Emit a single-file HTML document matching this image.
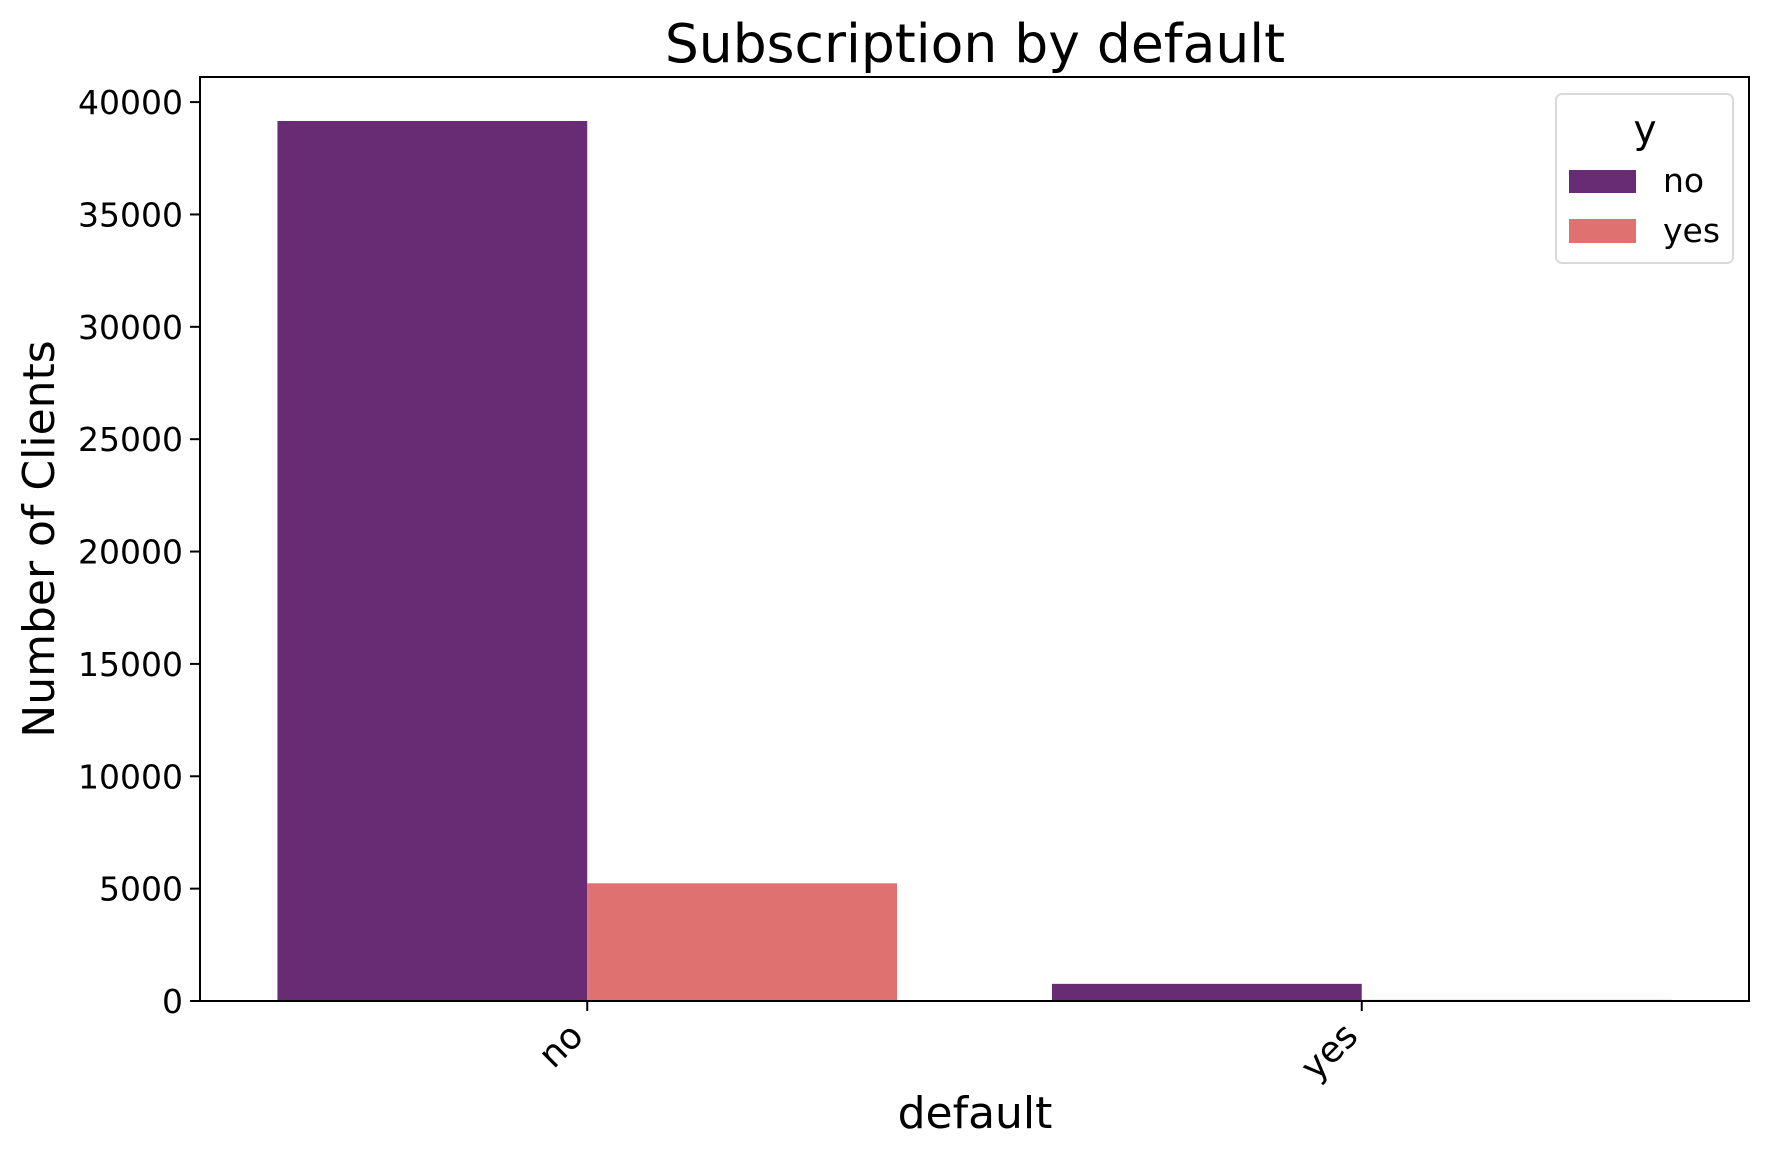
<!DOCTYPE html>
<html><head><meta charset="utf-8"><style>
html,body{margin:0;padding:0;background:#fff;}
svg{display:block;font-family:"DejaVu Sans","Liberation Sans",sans-serif;}
</style></head><body>
<svg id="chart" width="1769" height="1159" viewBox="0 0 1769 1159" xmlns="http://www.w3.org/2000/svg">
<rect width="1769" height="1159" fill="#fff"/>
<text x="975" y="62" font-size="53.5" text-anchor="middle">Subscription by default</text>
<g id="plot"></g>
<text x="975" y="1128" font-size="44" text-anchor="middle">default</text>
<text transform="translate(54,539) rotate(-90)" font-size="44" text-anchor="middle">Number of Clients</text>
<g>
<rect x="1556" y="94" width="177" height="169" rx="6" fill="#fff" stroke="#d9d9d9" stroke-width="2"/>
<text x="1645" y="143" font-size="39" text-anchor="middle">y</text>
<rect x="1569" y="170" width="67" height="23" fill="#682c74"/>
<text x="1663" y="192" font-size="33">no</text>
<rect x="1569" y="219" width="67" height="24" fill="#df7270"/>
<text x="1663" y="242" font-size="33">yes</text>
</g>
</svg>
<script>
const categories = ["no", "yes"];
const seriesNames = ["no", "yes"];
const seriesNo = [39159, 763];
const seriesYes = [5237, 52];
const yTicks = [0, 5000, 10000, 15000, 20000, 25000, 30000, 35000, 40000];

const NS = "http://www.w3.org/2000/svg";
const plot = document.getElementById('plot');
const L = 200, R = 1749, T = 77, B = 1001;
const yMax = Math.max(...seriesNo, ...seriesYes) * 1.05;
const band = (R - L) / categories.length;
function xScale(i) { return L + band * (i + 0.5); }
function yScale(v) { return B - v / yMax * (B - T); }
const colors = ["#682c74", "#df7270"];
const series = [seriesNo, seriesYes];
const barW = band * 0.4;

function mk(tag, attrs) {
  const e = document.createElementNS(NS, tag);
  for (const k in attrs) e.setAttribute(k, attrs[k]);
  plot.appendChild(e);
  return e;
}

series.forEach((vals, s) => {
  vals.forEach((v, i) => {
    const x = xScale(i) - barW + s * barW;
    const r = mk('rect', {x: x, y: yScale(v), width: barW, height: B - yScale(v), fill: colors[s]});
    
    
  });
});

yTicks.forEach(t => {
  const y = yScale(t);
  const ln = mk('line', {x1: L - 10, x2: L, y1: y, y2: y, stroke: '#000', 'stroke-width': 2});
  
  
  const tx = mk('text', {x: L - 17, y: y + 12, 'font-size': 33, 'text-anchor': 'end'});
  tx.textContent = t;
  
  
});

categories.forEach((c, i) => {
  const x = xScale(i);
  const ln = mk('line', {x1: x, x2: x, y1: B, y2: B + 10, stroke: '#000', 'stroke-width': 2});
  
  
  const tx = mk('text', {transform: 'translate(' + (x - 2) + ',' + (B + 37) + ') rotate(-45)', 'font-size': 36, 'text-anchor': 'end'});
  tx.textContent = c;
  
  
});

const frame = mk('rect', {x: L, y: T, width: R - L, height: B - T, fill: 'none', stroke: '#000', 'stroke-width': 2});


</script>
</body></html>
